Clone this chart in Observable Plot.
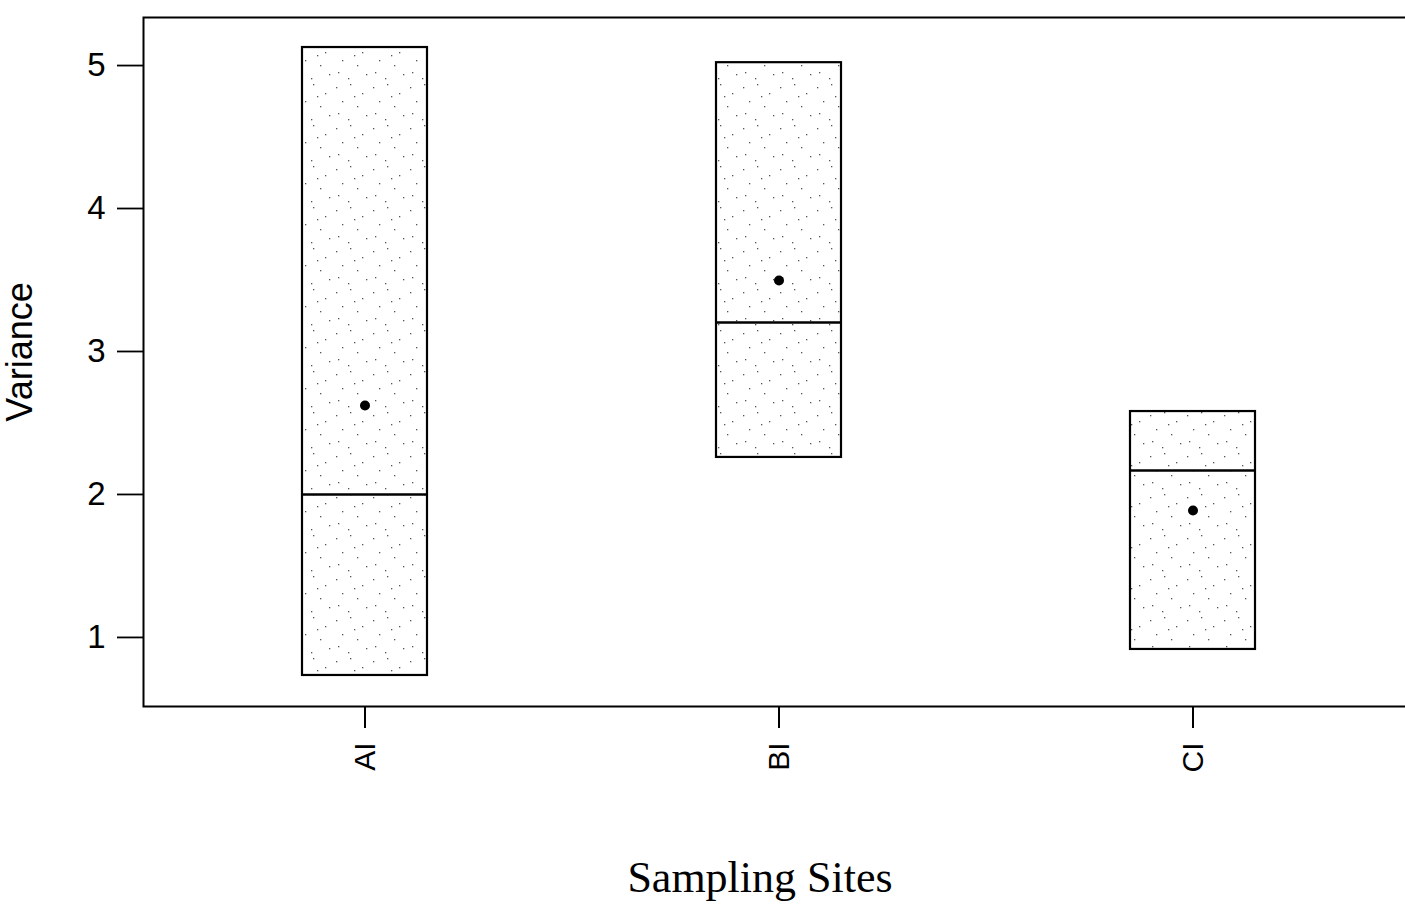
<!DOCTYPE html>
<html>
<head>
<meta charset="utf-8">
<script src="https://cdn.jsdelivr.net/npm/d3@7"></script>
<script src="https://cdn.jsdelivr.net/npm/@observablehq/plot@0.6"></script>
<style>
  html, body { margin: 0; padding: 0; background: #fff; }
  #wrap { position: relative; width: 1405px; height: 907px; overflow: hidden; }
  #ylab { position: absolute; left: 0; top: 352px; width: 0; height: 0; }
  #ylab span { position: absolute; left: 38px; top: 0; transform: translate(-50%, -50%) rotate(-90deg) translate(0, -50%);
    font-family: "Liberation Sans", Arial, sans-serif; font-size: 36px; line-height: 36px; white-space: nowrap; color: #000; }
  #xlab { position: absolute; left: 0; top: 856px; width: 1520px; text-align: center;
    font-family: "Liberation Serif", "Times New Roman", serif; font-size: 44px; line-height: 44px; color: #000; }
</style>
</head>
<body>
<div id="wrap">
  <div id="chart"></div>
  <div id="ylab"><span id="ylabtext">Variance</span></div>
  <div id="xlab">Sampling Sites</div>
</div>
<script>
const sites = ["AI", "BI", "CI"];
const boxMin = [0.734, 2.259, 0.916];
const boxMax = [5.126, 5.02, 2.58];
const medians = [2.0, 3.203, 2.168];
const means = [2.622, 3.497, 1.888];
const yTicks = [1, 2, 3, 4, 5];

const data = sites.map((s, i) => ({site: s, lo: boxMin[i], hi: boxMax[i], med: medians[i], mean: means[i]}));

const plot = Plot.plot({
  width: 1405,
  height: 850,
  marginLeft: 143,
  marginRight: -10,
  marginTop: 17,
  marginBottom: 144,
  style: {fontFamily: "Liberation Sans, Arial, sans-serif", fontSize: "30px", color: "#000", background: "#fff"},
  x: {domain: sites, paddingInner: 0.698, paddingOuter: 0.385, label: null},
  y: {domain: [0.517, 5.336], label: null},
  marks: [
    Plot.frame({stroke: "#000", strokeWidth: 2}),
    Plot.barY(data, {x: "site", y1: "lo", y2: "hi", fill: "url(#stipple)", stroke: "#000", strokeWidth: 2.2}),
    Plot.tickY(data, {x: "site", y: "med", stroke: "#000", strokeWidth: 2.5}),
    Plot.dot(data, {x: "site", y: "mean", r: 5, fill: "#000", stroke: "none"}),
    Plot.axisY({ticks: yTicks, tickFormat: d => String(d), tickSize: 26, tickPadding: 12, strokeWidth: 1.8, fontSize: 33, label: null}),
    Plot.axisX({tickSize: 22, tickPadding: 14, tickRotate: -90, strokeWidth: 2, label: null})
  ]
});

// stipple pattern for box fill
const ns = "http://www.w3.org/2000/svg";
const defs = document.createElementNS(ns, "defs");
const pat = document.createElementNS(ns, "pattern");
pat.setAttribute("id", "stipple");
pat.setAttribute("patternUnits", "userSpaceOnUse");
pat.setAttribute("width", "37");
pat.setAttribute("height", "41");
const bg = document.createElementNS(ns, "rect");
bg.setAttribute("width", "37"); bg.setAttribute("height", "41"); bg.setAttribute("fill", "#fff");
pat.appendChild(bg);
[[3,5],[17,2],[29,11],[9,19],[24,24],[33,33],[5,31],[15,37],[21,14]].forEach(([cx, cy]) => {
  const c = document.createElementNS(ns, "rect");
  c.setAttribute("x", cx); c.setAttribute("y", cy); c.setAttribute("width", "1.3"); c.setAttribute("height", "1.3");
  c.setAttribute("fill", "#555");
  pat.appendChild(c);
});
defs.appendChild(pat);
plot.insertBefore(defs, plot.firstChild);

document.getElementById("chart").appendChild(plot);
</script>
</body>
</html>
